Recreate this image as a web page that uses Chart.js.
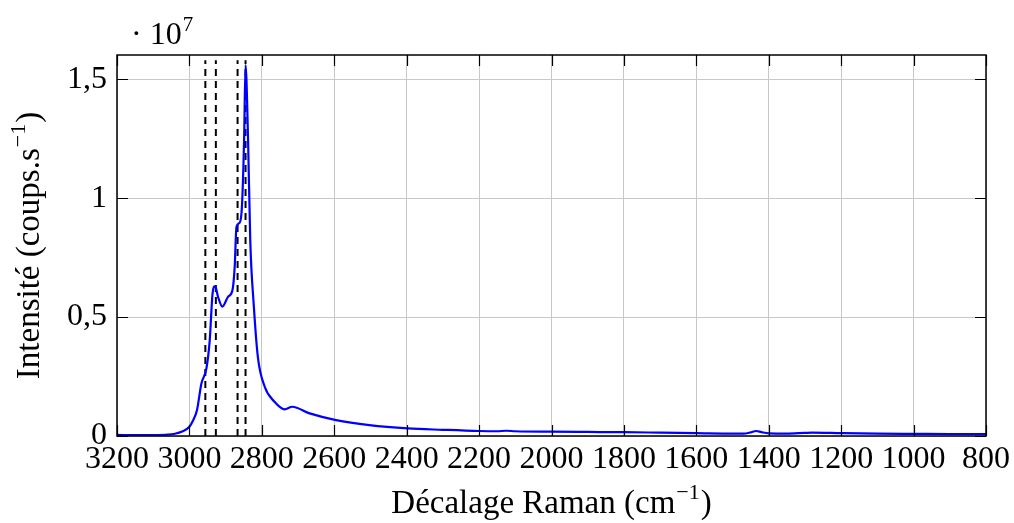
<!DOCTYPE html>
<html><head><meta charset="utf-8">
<script src="https://cdn.jsdelivr.net/npm/chart.js@4/dist/chart.umd.min.js"></script>
<style>html,body{margin:0;padding:0;background:#fff;}#wrap{width:1014px;height:523px;}</style>
</head><body><div id="wrap"><canvas id="c" width="1014" height="523"></canvas></div>
<script>
const wavenumbers = [3200,3150,3100,3060,3040,3020,3000,2990,2979,2967,2953,2944,2936,2929,2921,2909,2893,2881,2875,2870,2861,2855,2849,2845,2838,2832,2822,2811,2792,2765,2737,2716,2668,2595,2503,2397,2300,2200,2150,2125,2100,2000,1900,1800,1700,1600,1500,1470,1450,1435,1420,1400,1350,1300,1280,1200,1100,1000,900,800];
const intensities = [45000,38000,38000,55000,95000,190000,390000,650000,1090000,2200000,2850000,4000000,6000000,6300000,5850000,5440000,5860000,6140000,7100000,8800000,8970000,9640000,12450000,15600000,12450000,8240000,5440000,3330000,2070000,1440000,1120000,1230000,950000,670000,460000,320000,260000,210000,200000,220000,200000,180000,170000,160000,140000,120000,100000,100000,150000,210000,160000,110000,100000,130000,140000,120000,100000,90000,80000,80000];
const dashedLines = [2956,2927,2867,2845];
const dashTop = 15800000;
const xTicks = [3200,3000,2800,2600,2400,2200,2000,1800,1600,1400,1200,1000,800];
const yTicks = [0,5000000,10000000,15000000];
const yTickLabels = ['0','0,5','1','1,5'];
const xTitle = ['Décalage Raman (cm', '\u22121', ')'];
const yTitle = ['Intensité (coups.s', '\u22121', ')'];
const exponentLabel = ['\u00B7 10', '7'];

const FONT = '"Liberation Serif", "DejaVu Serif", serif';
const datasets = [{
  data: wavenumbers.map((w,i)=>({x:w,y:intensities[i]})),
  borderColor:'#0000ff', borderWidth:2.2, pointRadius:0, cubicInterpolationMode:'monotone', fill:false, order:0
}];
dashedLines.forEach(w=>datasets.push({
  data:[{x:w,y:0},{x:w,y:dashTop}], borderColor:'#000', borderWidth:2, borderDash:[7,5], pointRadius:0, fill:false, order:1
}));

function drawSup(ctx, parts, cx, baseline, size, supSize){
  ctx.font = size+'px '+FONT;
  const w0 = ctx.measureText(parts[0]).width;
  const w2 = ctx.measureText(parts[2]).width;
  ctx.font = supSize+'px '+FONT;
  const w1 = ctx.measureText(parts[1]).width;
  const total = w0+w1+w2+2;
  let x = cx - total/2;
  ctx.textAlign='left'; ctx.textBaseline='alphabetic';
  ctx.font = size+'px '+FONT; ctx.fillText(parts[0], x, baseline); x += w0+1;
  ctx.font = supSize+'px '+FONT; ctx.fillText(parts[1], x, baseline - size*0.42); x += w1+1;
  ctx.font = size+'px '+FONT; ctx.fillText(parts[2], x, baseline);
}

const frame = {
  id:'frame',
  afterDatasetsDraw(chart){
    const {ctx, chartArea:a, scales:{x,y}} = chart;
    ctx.save();
    ctx.strokeStyle='#000'; ctx.lineWidth=1.2;
    xTicks.forEach(v=>{const px=Math.round(x.getPixelForValue(v))+0.5;
      ctx.beginPath();ctx.moveTo(px,a.bottom);ctx.lineTo(px,a.bottom-11);ctx.moveTo(px,a.top);ctx.lineTo(px,a.top+11);ctx.stroke();});
    yTicks.forEach(v=>{const py=Math.round(y.getPixelForValue(v))+0.5;
      ctx.beginPath();ctx.moveTo(a.left,py);ctx.lineTo(a.left+11,py);ctx.moveTo(a.right,py);ctx.lineTo(a.right-11,py);ctx.stroke();});
    ctx.lineWidth=1.5;
    ctx.strokeRect(a.left,a.top,a.right-a.left,a.bottom-a.top);
    ctx.fillStyle='#000';
    // exponent label
    ctx.textBaseline='alphabetic'; ctx.textAlign='left';
    ctx.font='32px '+FONT;
    ctx.fillText(exponentLabel[0], 131, 44);
    const w = ctx.measureText(exponentLabel[0]).width;
    ctx.font='21px '+FONT;
    ctx.fillText(exponentLabel[1], 131+w+1, 31);
    // x title
    drawSup(ctx, xTitle, (a.left+a.right)/2, 513, 33, 22);
    // y title
    ctx.save();
    ctx.translate(39, (a.top+a.bottom)/2);
    ctx.rotate(-Math.PI/2);
    drawSup(ctx, yTitle, 0, 0, 33, 22);
    ctx.restore();
    ctx.restore();
  }
};

new Chart(document.getElementById('c'), {
  type:'line',
  data:{datasets},
  options:{
    responsive:false, animation:false,
    layout:{padding:{left:0,right:26,top:55,bottom:0}},
    plugins:{legend:{display:false},tooltip:{enabled:false}},
    scales:{
      x:{type:'linear', reverse:true, min:800, max:3200,
        afterBuildTicks(s){s.ticks=xTicks.map(v=>({value:v}));},
        afterFit(s){s.height=87;},
        ticks:{callback:v=>String(v), font:{family:FONT,size:32}, color:'#000', padding:4, maxRotation:0, autoSkip:false},
        grid:{color:'#c8c8c8', lineWidth:1, drawTicks:false},
        border:{display:false}
      },
      y:{type:'linear', min:0, max:16020000,
        afterBuildTicks(s){s.ticks=yTicks.map(v=>({value:v}));},
        afterFit(s){s.width=117;},
        ticks:{callback:(v)=>{const i=yTicks.indexOf(v);return i>=0?yTickLabels[i]:'';}, font:{family:FONT,size:32}, color:'#000', padding:10},
        grid:{color:'#c8c8c8', lineWidth:1, drawTicks:false},
        border:{display:false}
      }
    }
  },
  plugins:[frame]
});
</script></body></html>
